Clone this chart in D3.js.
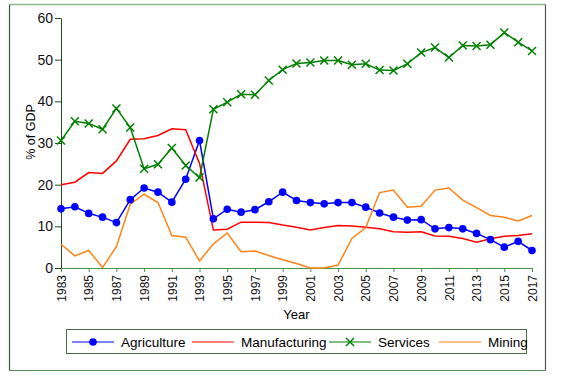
<!DOCTYPE html>
<html lang="en">
<head>
<meta charset="UTF-8">
<script src="https://d3js.org/d3.v7.min.js"></script>
<style>
  body { margin: 0; background: #fff; }
  svg { font-family: "Liberation Sans", Arial, sans-serif; }
  .y.axis path, .y.axis line { stroke: #1f4a1f; }
  .x.axis path, .x.axis line { stroke: #4f8f4f; }
  .axis text { fill: #111; }
</style>
</head>
<body>
<svg class="chart"></svg>
<script>

const years = d3.range(1983, 2018);
const yTicks = [0, 10, 20, 30, 40, 50, 60];
const xTicks = d3.range(1983, 2018, 2);

const agriculture = [14.2, 14.7, 13.1, 12.2, 10.9, 16.4, 19.2, 18.2, 15.8, 21.3,
  30.6, 11.8, 14.1, 13.4, 14.0, 15.9, 18.2, 16.2, 15.7, 15.4,
  15.7, 15.7, 14.6, 13.2, 12.2, 11.5, 11.6, 9.4, 9.7, 9.4,
  8.3, 6.8, 5.0, 6.4, 4.2];
const manufacturing = [20.0, 20.6, 22.9, 22.7, 25.7, 30.9, 31.0, 31.8, 33.4, 33.2,
  25.1, 9.1, 9.3, 11.0, 11.0, 10.9, 10.3, 9.8, 9.1, 9.7,
  10.2, 10.1, 9.8, 9.4, 8.7, 8.6, 8.7, 7.7, 7.6, 7.1,
  6.2, 7.0, 7.6, 7.8, 8.2];
const services = [30.6, 35.2, 34.7, 33.3, 38.3, 33.7, 23.8, 24.9, 28.8, 24.6,
  21.7, 38.1, 39.8, 41.7, 41.6, 45.0, 47.6, 49.1, 49.3, 49.8,
  49.8, 48.8, 49.0, 47.5, 47.4, 49.0, 51.7, 52.9, 50.5, 53.4,
  53.3, 53.6, 56.5, 54.2, 52.1];
const mining = [5.7, 2.9, 4.2, 0.1, 5.1, 15.3, 17.7, 15.7, 7.8, 7.4,
  1.7, 5.8, 8.4, 3.9, 4.1, 3.0, 2.0, 1.1, 0.0, 0.0,
  0.7, 7.1, 9.7, 18.1, 18.7, 14.6, 14.8, 18.7, 19.2, 16.3,
  14.5, 12.6, 12.2, 11.3, 12.6];

const seriesNames = ["Agriculture", "Manufacturing", "Services", "Mining"];
const seriesValues = [agriculture, manufacturing, services, mining];
const colors = ["#0000ff", "#ff0000", "#008000", "#ff8418"];
const markers = ["dot", "none", "cross", "none"];

const W = 566, H = 377;
const margin = {top: 18, right: 34, bottom: 109, left: 61},
    width = W - margin.left - margin.right,
    height = H - margin.top - margin.bottom;

let x = d3.scaleLinear()
    .domain([1983, 2017])
    .range([0, width]);

let y = d3.scaleLinear()
    .domain([0, 60])
    .range([height, 0]);

let root = d3.select(".chart")
    .attr("width", W)
    .attr("height", H);

// outer frame
root.append("line").attr("x1", 9.5).attr("x2", 545.5).attr("y1", 4.5).attr("y2", 4.5)
    .attr("stroke", "#8fb88f").attr("stroke-width", 1.5);
root.append("line").attr("x1", 9.5).attr("x2", 545.5).attr("y1", 370.5).attr("y2", 370.5)
    .attr("stroke", "#5f8f5f").attr("stroke-width", 1.2);
root.append("line").attr("x1", 9.5).attr("x2", 9.5).attr("y1", 4.5).attr("y2", 370.5)
    .attr("stroke", "#2f5f2f").attr("stroke-width", 1.2);
root.append("line").attr("x1", 545.5).attr("x2", 545.5).attr("y1", 4.5).attr("y2", 370.5)
    .attr("stroke", "#555").attr("stroke-width", 1.2);

let svg = root.append("g")
    .attr("transform", `translate(${margin.left},${margin.top})`);

// axes
svg.append("g")
    .attr("class", "y axis")
    .call(d3.axisLeft(y).tickValues(yTicks).tickSize(6).tickPadding(2).tickSizeOuter(0))
    .selectAll("text")
      .style("font-size", "14px");

let xg = svg.append("g")
    .attr("class", "x axis")
    .attr("transform", `translate(0,${height})`)
    .call(d3.axisBottom(x).tickValues(xTicks).tickFormat(d3.format("d")).tickSize(4).tickSizeOuter(0));
xg.selectAll("text")
    .style("font-size", "12px")
    .attr("text-anchor", "end")
    .attr("dy", "0.35em")
    .attr("y", 0)
    .attr("transform", "translate(0,7) rotate(-90)");

// axis labels
svg.append("text")
    .attr("transform", `translate(-26,${height / 2 - 11}) rotate(-90)`)
    .attr("text-anchor", "middle")
    .style("font-size", "12.5px")
    .text("% of GDP");
svg.append("text")
    .attr("x", x(2000))
    .attr("y", height + 51)
    .attr("text-anchor", "middle")
    .style("font-size", "13px")
    .text("Year");

// lines
let line = d3.line()
    .x((d, i) => x(years[i]))
    .y(d => y(d));

seriesValues.forEach((vals, k) => {
  svg.append("path")
      .datum(vals)
      .attr("fill", "none")
      .attr("stroke", colors[k])
      .attr("stroke-width", 1.5)
      .attr("d", line);
});

// markers
function drawMarker(g, type, cx, cy, color) {
  if (type === "dot") {
    g.append("circle").attr("cx", cx).attr("cy", cy).attr("r", 3.8).attr("fill", color);
  } else if (type === "cross") {
    const s = 4;
    g.append("path")
        .attr("d", `M${cx - s},${cy - s}L${cx + s},${cy + s}M${cx - s},${cy + s}L${cx + s},${cy - s}`)
        .attr("stroke", color).attr("stroke-width", 1.5).attr("fill", "none");
  }
}

seriesValues.forEach((vals, k) => {
  if (markers[k] === "none") return;
  let g = svg.append("g");
  vals.forEach((v, i) => drawMarker(g, markers[k], x(years[i]), y(v), colors[k]));
});

// legend
let legend = root.append("g").attr("class", "legend");
legend.append("rect")
    .attr("x", 66.5).attr("y", 329.5).attr("width", 460).attr("height", 24)
    .attr("fill", "#fff").attr("stroke", "#4a6e4a").attr("stroke-width", 1);

const legendX = [72, 192, 329, 439];
seriesNames.forEach((name, k) => {
  let lx = legendX[k], ly = 342;
  legend.append("line")
      .attr("x1", lx).attr("x2", lx + 42).attr("y1", ly).attr("y2", ly)
      .attr("stroke", colors[k]).attr("stroke-width", 1.2);
  drawMarker(legend, markers[k], lx + 21, ly, colors[k]);
  legend.append("text")
      .attr("x", lx + 49)
      .attr("y", ly)
      .attr("dy", "0.35em")
      .style("font-size", "13.5px")
      .text(name);
});

</script>
</body>
</html>
